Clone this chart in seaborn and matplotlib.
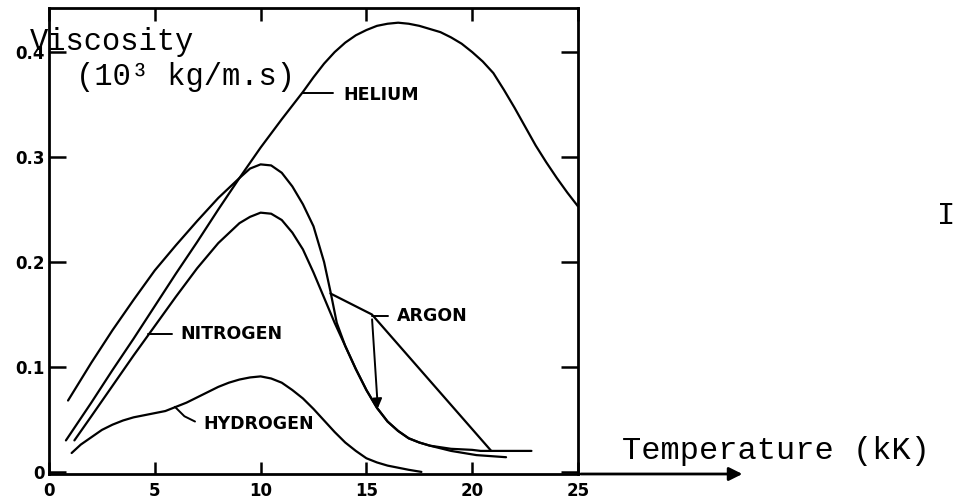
import seaborn as sns
import matplotlib.pyplot as plt
import pandas as pd

# values (temperature in kK, viscosity in 10^3 kg/m.s)
helium_t = [0.8, 2, 3, 4, 5, 6, 7, 8, 9, 10, 11, 11.5, 12, 12.5, 13, 13.5, 14, 14.5, 15, 15.5, 16, 16.5,
            17, 17.5, 18, 18.5, 19, 19.5, 20, 20.5, 21, 21.5, 22, 22.5, 23, 23.5, 24, 24.5, 25]
helium_v = [0.030, 0.066, 0.097, 0.127, 0.158, 0.189, 0.219, 0.250, 0.280, 0.309, 0.336, 0.349, 0.362,
            0.376, 0.389, 0.400, 0.409, 0.416, 0.421, 0.425, 0.427, 0.428, 0.427, 0.425, 0.422, 0.419,
            0.414, 0.408, 0.400, 0.391, 0.380, 0.364, 0.347, 0.329, 0.311, 0.295, 0.280, 0.266, 0.253]

argon_t = [0.9, 2, 3, 4, 5, 6, 7, 8, 9, 9.5, 10, 10.5, 11, 11.5, 12, 12.5, 13, 13.3, 13.6, 14, 14.5, 15,
           15.5, 16, 16.5, 17, 17.5, 18, 19, 20, 20.4, 21.5, 22.8]
argon_v = [0.068, 0.104, 0.135, 0.164, 0.192, 0.216, 0.239, 0.261, 0.280, 0.289, 0.293, 0.292, 0.285,
           0.272, 0.255, 0.234, 0.200, 0.172, 0.142, 0.120, 0.098, 0.078, 0.061, 0.048, 0.039, 0.032,
           0.028, 0.025, 0.022, 0.021, 0.020, 0.020, 0.020]

# second argon branch
argon2_t = [13.3, 15.26, 20.9]
argon2_v = [0.170, 0.150, 0.020]

nitrogen_t = [1.2, 2, 3, 4, 5, 6, 7, 8, 9, 9.5, 10, 10.5, 11, 11.5, 12, 12.5, 13, 13.5, 14, 14.5, 15,
              15.5, 16, 16.5, 17, 17.5, 18, 19, 20.2, 21.6]
nitrogen_v = [0.030, 0.053, 0.082, 0.111, 0.139, 0.167, 0.194, 0.218, 0.237, 0.243, 0.247, 0.246, 0.240,
              0.228, 0.212, 0.190, 0.166, 0.142, 0.120, 0.098, 0.078, 0.061, 0.048, 0.039, 0.032, 0.028,
              0.025, 0.020, 0.016, 0.014]

hydrogen_t = [1.07, 1.5, 2, 2.5, 3, 3.5, 4, 4.5, 5, 5.5, 6, 6.5, 7, 7.5, 8, 8.5, 9, 9.5, 10, 10.5, 11,
              11.5, 12, 12.5, 13, 13.5, 14, 14.5, 15, 15.5, 16, 16.5, 17, 17.6]
hydrogen_v = [0.018, 0.026, 0.033, 0.040, 0.045, 0.049, 0.052, 0.054, 0.056, 0.058, 0.062, 0.066, 0.071,
              0.076, 0.081, 0.085, 0.088, 0.090, 0.091, 0.089, 0.085, 0.078, 0.070, 0.060, 0.049, 0.038,
              0.028, 0.020, 0.013, 0.009, 0.006, 0.004, 0.002, 0.0]

x_ticks = [0, 5, 10, 15, 20, 25]
x_labels = ['0', '5', '10', '15', '20', '25']
y_ticks = [0, 0.1, 0.2, 0.3, 0.4]
y_labels = ['0', '0.1', '0.2', '0.3', '0.4']

sns.set_style('white')
plt.rcParams['font.family'] = ['DejaVu Sans']
plt.rcParams['text.color'] = 'black'
plt.rcParams['xtick.color'] = 'black'
plt.rcParams['ytick.color'] = 'black'

fig = plt.figure(figsize=(9.54, 5.0), dpi=100)
ax = fig.add_axes([49 / 954, 26 / 500, 529 / 954, 466 / 500])

curves = [(helium_t, helium_v), (argon_t, argon_v), (argon2_t, argon2_v),
          (nitrogen_t, nitrogen_v), (hydrogen_t, hydrogen_v)]
for t, v in curves:
    df = pd.DataFrame({'T': t, 'mu': v})
    sns.lineplot(data=df, x='T', y='mu', ax=ax, color='black', lw=1.6, sort=False)

# label leaders
lab = dict(fontsize=12.5, fontweight='bold', va='center', ha='left', color='black')
ax.plot([12.0, 13.4], [0.361, 0.361], color='black', lw=1.4)
ax.text(13.9, 0.359, 'HELIUM', **lab)
ax.plot([4.68, 5.8], [0.131, 0.131], color='black', lw=1.4)
ax.text(6.2, 0.131, 'NITROGEN', **lab)
ax.plot([5.95, 6.4, 6.9], [0.062, 0.053, 0.048], color='black', lw=1.4)
ax.text(7.3, 0.046, 'HYDROGEN', **lab)
ax.plot([15.26, 16.0], [0.149, 0.149], color='black', lw=1.4)
ax.text(16.45, 0.149, 'ARGON', **lab)
ax.annotate('', xy=(15.55, 0.058), xytext=(15.26, 0.148),
            arrowprops=dict(arrowstyle='-|>', color='black', lw=1.4, mutation_scale=14))

ax.set_xlim(0, 25)
ax.set_ylim(-0.002, 0.442)
ax.set_xticks(x_ticks)
ax.set_xticklabels(x_labels, fontsize=12, fontweight='bold')
ax.set_yticks(y_ticks)
ax.set_yticklabels(y_labels, fontsize=12, fontweight='bold')
ax.set_xlabel('')
ax.set_ylabel('')
ax.tick_params(axis='x', direction='in', length=9, width=1.8, top=True, bottom=True, pad=6)
ax.tick_params(axis='y', direction='in', length=12, width=1.8, left=True, right=True, pad=3)
for s in ax.spines.values():
    s.set_linewidth(2)
    s.set_color('black')

# x axis arrow continuing past the frame
ax.annotate('', xy=(1.316, 0), xytext=(1.0, 0), xycoords='axes fraction',
            arrowprops=dict(arrowstyle='-|>', color='black', lw=2, mutation_scale=20),
            annotation_clip=False)

mono = 'Liberation Mono'
fig.text(30 / 954, 1 - 42 / 500, 'Viscosity', fontfamily=mono, fontsize=22, va='center', ha='left')
fig.text(76 / 954, 1 - 77 / 500, '(10³ kg/m.s)', fontfamily=mono, fontsize=22, va='center', ha='left')
fig.text(622 / 954, 1 - 451 / 500, 'Temperature (kK)', fontfamily=mono, fontsize=23, va='center', ha='left')
fig.text(946 / 954, 1 - 216 / 500, 'I', fontfamily=mono, fontsize=22, va='center', ha='center')

fig.savefig('out.png', dpi=100)
